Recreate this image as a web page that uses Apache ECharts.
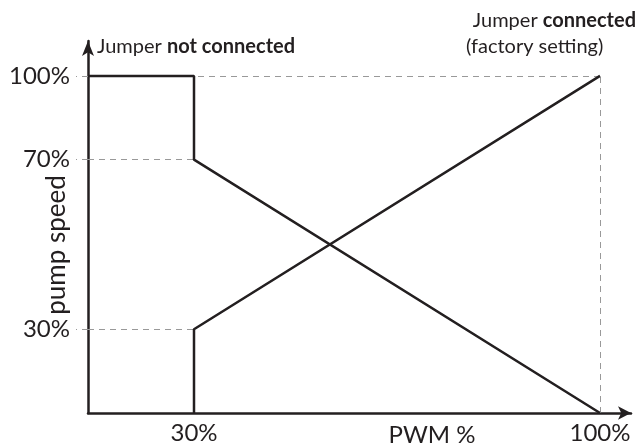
<!DOCTYPE html>
<html><head><meta charset="utf-8">
<script src="https://cdn.jsdelivr.net/npm/echarts@6/dist/echarts.min.js"></script>
<style>html,body{margin:0;padding:0;background:#fff}#c{width:637px;height:445px}</style>
</head><body><div id="c"></div>
<script>
// ---- data ----
const pwmTicks = [30, 100];
const speedTicks = [30, 70, 100];
const notConnectedPwm = [0, 30, 30, 100];
const notConnectedSpeed = [100, 100, 70, 0];
const connectedPwm = [30, 30, 100];
const connectedSpeed = [0, 30, 100];
// guide lines: [pwm1, speed1, pwm2, speed2]
const guides = [[0,100,100,100],[0,70,30,70],[0,30,30,30],[100,0,100,100]];

// ---- schematic (non-linear) axis scales: value knots -> axis units ----
const xKnotVals = [0, 30, 100], xKnotPos = [0, 106, 512];
const yKnotVals = [0, 30, 70, 100], yKnotPos = [0, 84, 254, 338];
function piece(v, vals, pos){
  for (let i=1;i<vals.length;i++){
    if (v<=vals[i] || i===vals.length-1){
      const t=(v-vals[i-1])/(vals[i]-vals[i-1]);
      return pos[i-1]+t*(pos[i]-pos[i-1]);
    }
  }
}
const sx = v => piece(v, xKnotVals, xKnotPos);
const sy = v => piece(v, yKnotVals, yKnotPos);
const labelFor = (ticks, f) => val => { const t = ticks.find(t => Math.abs(f(t)-val) < 0.5); return t===undefined ? '' : t + '%'; };

const FONT = 'Lato, "Open Sans", sans-serif';
const INK = '#231f20';
const chart = echarts.init(document.getElementById('c'), null, {renderer:'canvas'});
chart.setOption({
  animation:false,
  grid:{left:88, right:6, top:41, bottom:31, containLabel:false},
  xAxis:{type:'value', min:0, max:543,
    axisLine:{lineStyle:{color:INK,width:2.5}, symbol:['none','arrow'], symbolSize:[10,13]},
    axisTick:{show:false}, splitLine:{show:false},
    axisLabel:{customValues: pwmTicks.map(sx), formatter: labelFor(pwmTicks, sx), color:INK, fontSize:24, fontFamily:FONT, margin:8}
  },
  yAxis:{type:'value', min:0, max:373,
    axisLine:{lineStyle:{color:INK,width:2.5}, symbol:['none','arrow'], symbolSize:[9,15]},
    axisTick:{show:true, customValues: speedTicks.map(sy), length:12, lineStyle:{color:'#999', type:[6,5], width:1}},
    splitLine:{show:false},
    axisLabel:{customValues: speedTicks.map(sy), formatter: labelFor(speedTicks, sy), color:INK, fontSize:24, fontFamily:FONT, margin:18}
  },
  series:[
    {type:'lines', coordinateSystem:'cartesian2d', silent:true, z:1,
     lineStyle:{color:'#999', width:1, type:[6,5], opacity:1},
     data: guides.map(g => ({coords:[[sx(g[0]),sy(g[1])],[sx(g[2]),sy(g[3])]]}))},
    {type:'line', name:'Jumper not connected', z:3, symbol:'none', lineStyle:{color:INK,width:2.5},
     data: notConnectedPwm.map((p,i)=>[sx(p), sy(notConnectedSpeed[i])])},
    {type:'line', name:'Jumper connected', z:3, symbol:'none', lineStyle:{color:INK,width:2.5},
     data: connectedPwm.map((p,i)=>[sx(p), sy(connectedSpeed[i])])}
  ],
  graphic:[
    {type:'text', x:57, y:245, rotation:Math.PI/2, style:{text:'pump speed', font:'26px '+FONT, fill:INK, align:'center', verticalAlign:'middle'}},
    {type:'text', x:432, y:435, style:{text:'PWM %', font:'24px '+FONT, fill:INK, align:'center', verticalAlign:'middle'}},
    {type:'text', x:97, y:47, style:{text:'{r|Jumper }{b|not connected}', verticalAlign:'middle', rich:{r:{fontSize:20,fontFamily:FONT,fill:INK}, b:{fontSize:20,fontFamily:FONT,fontWeight:'bold',fill:INK}}}},
    {type:'text', x:636, y:21, style:{text:'{r|Jumper }{b|connected}', align:'right', verticalAlign:'middle', rich:{r:{fontSize:20,fontFamily:FONT,fill:INK}, b:{fontSize:20,fontFamily:FONT,fontWeight:'bold',fill:INK}}}},
    {type:'text', x:466, y:47, style:{text:'(factory setting)', font:'20px '+FONT, fill:INK, verticalAlign:'middle'}}
  ]
});
</script></body></html>
